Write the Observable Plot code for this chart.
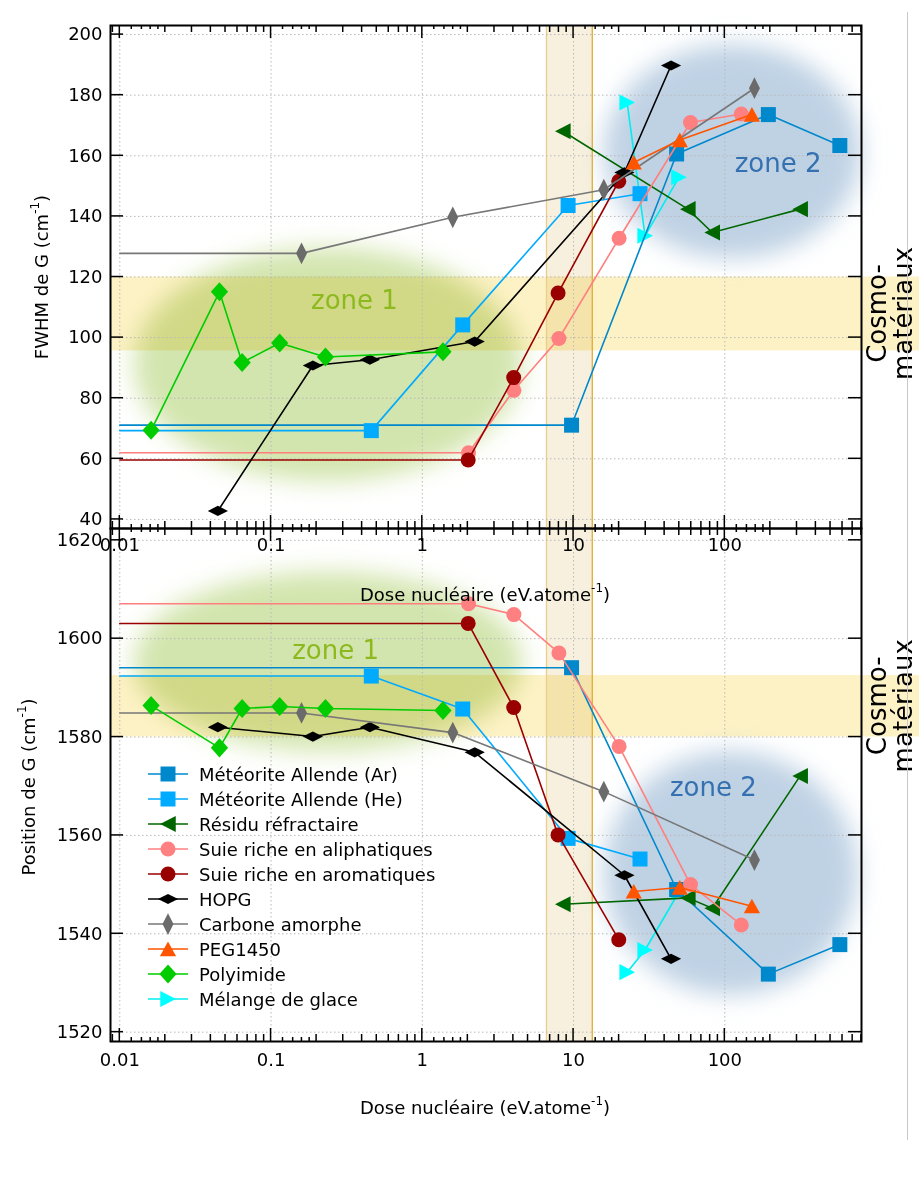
<!DOCTYPE html>
<html><head><meta charset="utf-8">
<script src="https://cdn.jsdelivr.net/npm/d3@7"></script>
<script src="https://cdn.jsdelivr.net/npm/@observablehq/plot@0.6"></script>
<style>
body{margin:0;background:#fff;}
#wrap{position:relative;width:919px;height:1181px;overflow:hidden;}
#wrap svg{position:absolute;left:0;top:0;}
</style></head><body><div id="wrap"></div><script>
const FONT = "'DejaVu Sans', sans-serif";

// ---- axes ----
const xDomain = [0.00868, 801];
const doseTicks = [0.01, 0.1, 1, 10, 100];
const fwhmDomain = [37.0, 203.0];
const fwhmTicks = [40, 60, 80, 100, 120, 140, 160, 180, 200];
const posDomain = [1518.1, 1622.4];
const posTicks = [1520, 1540, 1560, 1580, 1600, 1620];
const pristineDose = 0.01;

// ---- series (dose in eV/atom, FWHM and position of G in cm-1) ----
const names = ["Météorite Allende (Ar)", "Météorite Allende (He)", "Résidu réfractaire",
  "Suie riche en aliphatiques", "Suie riche en aromatiques", "HOPG", "Carbone amorphe",
  "PEG1450", "Polyimide", "Mélange de glace"];

const doseAr = [9.7, 48, 194, 576];
const fwhmAr = [71.1, 160.6, 173.6, 163.4];
const posAr = [1594.1, 1549.0, 1531.8, 1537.8];

const doseHe = [0.46, 1.85, 9.2, 27.5];
const fwhmHe = [69.3, 104.2, 143.6, 147.5];
const posHe = [1592.4, 1585.7, 1559.4, 1555.2];

const doseResidu = [8.5, 57, 82.6, 315];
const fwhmResidu = [168.1, 142.4, 134.7, 142.4];
const posResidu = [1546.0, 1547.3, 1545.2, 1572.1];

const doseAliph = [2.02, 4.03, 8.0, 20, 59.3, 128.5];
const fwhmAliph = [62.0, 82.6, 99.7, 132.8, 171.0, 173.8];
const posAliph = [1607.1, 1604.9, 1597.1, 1578.1, 1550.0, 1541.8];

const doseArom = [2.01, 4.02, 7.9, 19.9];
const fwhmArom = [59.6, 86.8, 114.7, 151.6];
const posArom = [1603.1, 1586.0, 1560.1, 1538.8];

const doseHOPG = [0.0445, 0.189, 0.45, 2.22, 21.7, 44.1];
const fwhmHOPG = [42.8, 90.8, 92.7, 98.7, 154.5, 189.8];
const posHOPG = [1582.0, 1580.1, 1582.0, 1576.9, 1551.9, 1534.9];

const doseCarbone = [0.159, 1.59, 15.85, 157];
const fwhmCarbone = [127.8, 139.7, 148.8, 182.3];
const posCarbone = [1584.9, 1580.9, 1568.9, 1555.0];

const dosePEG = [25.0, 50.4, 151];
const fwhmPEG = [157.8, 165.2, 173.6];
const posPEG = [1548.6, 1549.4, 1545.6];

const dosePoly = [0.0161, 0.0456, 0.0644, 0.114, 0.229, 1.37];
const fwhmPoly = [69.4, 115.1, 91.8, 98.2, 93.6, 95.3];
const posPoly = [1586.4, 1577.8, 1585.8, 1586.2, 1585.8, 1585.4];

const doseGlace = [22.6, 29.7, 49.7];
const fwhmGlace = [177.6, 133.6, 152.9];
const posGlace = [1532.2, 1536.7, 1548.5];

// series whose pristine value is drawn as a line from the lowest dose
const withPristine = ["Météorite Allende (Ar)", "Météorite Allende (He)", "Suie riche en aliphatiques",
  "Suie riche en aromatiques", "Carbone amorphe"];

// ---- annotation regions ----
const cosmoFwhm = [95.6, 120];
const cosmoPos = [1580, 1592.5];
const irradBand = [6.67, 13.4];
const zoneLabels = ["zone 1", "zone 2"];
const zoneFwhm = [ {dose: [0.0125, 4.6], value: [52.5, 129.5]}, {dose: [16.0, 800], value: [126.0, 196.5]} ];
const zonePos = [ {dose: [0.0125, 4.6], value: [1577.0, 1613.5]}, {dose: [16.0, 760], value: [1527.5, 1577.0]} ];
const zoneLabelFwhm = [ {dose: 0.356, value: 112.1}, {dose: 225, value: 157.4} ];
const zoneLabelPos = [ {dose: 0.267, value: 1597.6}, {dose: 84, value: 1569.8} ];

// ---- styles ----
const colors = ["#0088cc", "#00aaff", "#006600", "#ff8080", "#990000", "#000000", "#6b6b6b", "#ff5500", "#00cc00", "#00ffff"];
const lineColors = ["#0088cc", "#00aaff", "#006600", "#ff7f7f", "#990000", "#000000", "#777777", "#ff5500", "#00cc00", "#00eeee"];
const zoneColors = ["#d3e5ae", "#bfd2e4"];
const zoneTextColors = ["#8cb91e", "#3570b0"];
function poly(pts) {
  return {draw(ctx, size) {
    const r = Math.sqrt(size / Math.PI);
    pts.forEach(([a, b], i) => i ? ctx.lineTo(a * r, b * r) : ctx.moveTo(a * r, b * r));
    ctx.closePath();
  }};
}
const symSquare = poly([[-1, -1], [1, -1], [1, 1], [-1, 1]]);
const symLeft = poly([[-1.05, 0], [1.03, -1.07], [1.03, 1.07]]);
const symRight = poly([[1.05, 0], [-1.03, -1.07], [-1.03, 1.07]]);
const symUp = poly([[0, -1.0], [1.08, 0.95], [-1.08, 0.95]]);
const symDiamond = poly([[0, -1.27], [1.15, 0], [0, 1.27], [-1.15, 0]]);
const symFlat = poly([[0, -0.68], [1.35, 0], [0, 0.68], [-1.35, 0]]);
const symTall = poly([[0, -1.45], [0.73, 0], [0, 1.45], [-0.73, 0]]);
const symbols = [symSquare, symSquare, symLeft, d3.symbolCircle, d3.symbolCircle, symFlat, symTall, symUp, symDiamond, symRight];
const R = 7.5;

const series = [
  [doseAr, fwhmAr, posAr], [doseHe, fwhmHe, posHe], [doseResidu, fwhmResidu, posResidu],
  [doseAliph, fwhmAliph, posAliph], [doseArom, fwhmArom, posArom], [doseHOPG, fwhmHOPG, posHOPG],
  [doseCarbone, fwhmCarbone, posCarbone], [dosePEG, fwhmPEG, posPEG], [dosePoly, fwhmPoly, posPoly],
  [doseGlace, fwhmGlace, posGlace]
].map(([dose, fwhm, pos], i) => ({name: names[i], dose, fwhm, pos, color: colors[i], line: lineColors[i], symbol: symbols[i],
  pristine: withPristine.includes(names[i])}));
const drawOrder = [9, 0, 1, 2, 3, 4, 5, 6, 7, 8];

function zonesRender(zones, id) {
  return (index, {x, y}, values, dim) => {
    const g = d3.create("svg:g");
    const defs = g.append("defs");
    defs.append("filter").attr("id", id + "blur").attr("x", "-50%").attr("y", "-50%").attr("width", "200%").attr("height", "200%")
      .append("feGaussianBlur").attr("stdDeviation", 12);
    defs.append("clipPath").attr("id", id + "clip").append("rect")
      .attr("x", dim.marginLeft).attr("y", dim.marginTop)
      .attr("width", dim.width - dim.marginLeft - dim.marginRight)
      .attr("height", dim.height - dim.marginTop - dim.marginBottom);
    zones.forEach((z, i) => {
      const x1 = x(z.dose[0]), x2 = x(z.dose[1]), y1 = y(z.value[0]), y2 = y(z.value[1]);
      g.append("g").attr("clip-path", i === 0 ? `url(#${id}clip)` : null)
        .append("ellipse").attr("cx", (x1 + x2) / 2).attr("cy", (y1 + y2) / 2)
        .attr("rx", Math.abs(x2 - x1) / 2).attr("ry", Math.abs(y2 - y1) / 2)
        .attr("fill", zoneColors[i]).attr("filter", `url(#${id}blur)`);
    });
    return g.node();
  };
}

function bandsRender(cosmo) {
  return (index, {x, y}, values, dim) => {
    const g = d3.create("svg:g");
    const T = dim.marginTop, B = dim.height - dim.marginBottom, L = dim.marginLeft;
    g.append("rect").attr("x", L).attr("width", dim.width - L).attr("y", y(cosmo[1]))
      .attr("height", y(cosmo[0]) - y(cosmo[1])).attr("fill", "#fdf2c6").style("mix-blend-mode", "multiply");
    const bx1 = x(irradBand[0]), bx2 = x(irradBand[1]);
    g.append("rect").attr("x", bx1).attr("width", bx2 - bx1).attr("y", T).attr("height", B - T)
      .attr("fill", "#f7f0de").style("mix-blend-mode", "multiply");
    for (const [bx, c] of [[bx1, "#eccd8a"], [bx2, "#e3ac33"]])
      g.append("line").attr("x1", bx).attr("x2", bx).attr("y1", T).attr("y2", B).attr("stroke", c).attr("stroke-width", 1.3);
    return g.node();
  };
}

function cosmoText(cosmo) {
  return (index, {x, y}, values, dim) => {
    const cy = (y(cosmo[0]) + y(cosmo[1])) / 2;
    const g = d3.create("svg:g").attr("font-family", FONT).attr("font-size", 26).attr("text-anchor", "middle").attr("fill", "#000");
    g.append("text").attr("transform", `translate(${dim.width - 33},${cy}) rotate(-90)`).text("Cosmo-");
    g.append("text").attr("transform", `translate(${dim.width - 7},${cy}) rotate(-90)`).text("matériaux");
    return g.node();
  };
}

function ticksRender(yTicks) {
  return (index, {x, y}, values, dim) => {
    const L = dim.marginLeft, Rr = dim.width - dim.marginRight, T = dim.marginTop, B = dim.height - dim.marginBottom;
    const g = d3.create("svg:g").attr("stroke", "#000").attr("stroke-width", 1.5);
    for (let e = -3; e <= 3; e++) {
      for (const m of [1, 1.2, 1.4, 1.6, 1.8, 2, 3, 4, 5, 6, 7, 8, 9]) {
        const v = m * Math.pow(10, e);
        if (v < xDomain[0] || v > xDomain[1]) continue;
        const len = m === 1 ? 13 : Number.isInteger(m) ? 7 : 4;
        const px = x(v);
        g.append("line").attr("x1", px).attr("x2", px).attr("y1", T).attr("y2", T + len);
        g.append("line").attr("x1", px).attr("x2", px).attr("y1", B).attr("y2", B - len);
      }
    }
    for (const t of yTicks) {
      const py = y(t);
      g.append("line").attr("x1", L).attr("x2", L + 13).attr("y1", py).attr("y2", py);
      g.append("line").attr("x1", Rr - 13).attr("x2", Rr).attr("y1", py).attr("y2", py);
    }
    return g.node();
  };
}

function panel({key, yDomain, yTicks, height, marginTop, marginBottom, cosmo, zones, labels, xPad, id}) {
  const marks = [
    zonesRender(zones, id),
    bandsRender(cosmo),
    Plot.ruleX(doseTicks, {stroke: "#b8b8b8", strokeDasharray: "1.5,2.5", strokeWidth: 1}),
    Plot.ruleY(yTicks, {stroke: "#b8b8b8", strokeDasharray: "1.5,2.5", strokeWidth: 1}),
    Plot.text(labels.map((d, i) => ({...d, label: zoneLabels[i], c: zoneTextColors[i]})),
      {x: "dose", y: "value", text: "label", fill: d => d.c, fontSize: 26, fontFamily: FONT})
  ];
  for (const i of drawOrder) {
    const s = series[i];
    const pts = s.dose.map((d, j) => ({dose: d, value: s[key][j]}));
    const linePts = s.pristine ? [{dose: pristineDose, value: pts[0].value}, ...pts] : pts;
    marks.push(Plot.line(linePts, {x: "dose", y: "value", stroke: s.line, strokeWidth: 1.6}));
    marks.push(Plot.dot(pts, {x: "dose", y: "value", fill: s.color, symbol: s.symbol, r: R, stroke: "none"}));
  }
  marks.push(Plot.frame({stroke: "#000", strokeWidth: 2}));
  marks.push(ticksRender(yTicks));
  marks.push(cosmoText(cosmo));
  return Plot.plot({
    width: 919, height, marginTop, marginBottom, marginLeft: 110, marginRight: 58,
    x: {type: "log", domain: xDomain, ticks: doseTicks, tickFormat: d => String(d), tickSize: 0, tickPadding: xPad, label: null},
    y: {domain: yDomain, ticks: yTicks, tickFormat: d => String(d), tickSize: 0, tickPadding: 8, label: null},
    style: {background: "transparent", overflow: "visible", fontFamily: FONT, fontSize: "18px", color: "#000"},
    marks
  });
}

const wrap = document.getElementById("wrap");
const bottomPanel = panel({key: "pos", yDomain: posDomain, yTicks: posTicks, height: 1181, marginTop: 528, marginBottom: 140,
  cosmo: cosmoPos, zones: zonePos, labels: zoneLabelPos, xPad: 12, id: "pb"});
const topPanel = panel({key: "fwhm", yDomain: fwhmDomain, yTicks: fwhmTicks, height: 620, marginTop: 25, marginBottom: 92,
  cosmo: cosmoFwhm, zones: zoneFwhm, labels: zoneLabelFwhm, xPad: 10, id: "pt"});
wrap.appendChild(bottomPanel);
wrap.appendChild(topPanel);

// ---- overlay: axis titles, legend, page rule ----
const ov = d3.select(wrap).append("svg").attr("width", 919).attr("height", 1181)
  .attr("font-family", FONT).attr("font-size", 18).style("pointer-events", "none");
ov.append("line").attr("x1", 907.5).attr("x2", 907.5).attr("y1", 12).attr("y2", 1140).attr("stroke", "#c8c8c8").attr("stroke-width", 1);

function supText(sel, pre, sup, post) {
  sel.append("tspan").text(pre);
  sel.append("tspan").attr("font-size", 12).attr("dy", -9).text(sup);
  sel.append("tspan").attr("dy", 9).text(post);
}
for (const yb of [600.5, 1113.5]) {
  supText(ov.append("text").attr("x", 485).attr("y", yb).attr("text-anchor", "middle"), "Dose nucléaire (eV.atome", "-1", ")");
}
supText(ov.append("text").attr("transform", "translate(48,277) rotate(-90)").attr("text-anchor", "middle"), "FWHM de G (cm", "-1", ")");
supText(ov.append("text").attr("transform", "translate(35,787) rotate(-90)").attr("text-anchor", "middle"), "Position de G (cm", "-1", ")");

const leg = ov.append("g");
series.forEach((s, i) => {
  const cy = 774 + i * 25;
  leg.append("line").attr("x1", 148).attr("x2", 188).attr("y1", cy).attr("y2", cy).attr("stroke", s.line).attr("stroke-width", 1.6);
  leg.append("path").attr("transform", `translate(168,${cy})`).attr("d", d3.symbol(s.symbol, Math.PI * R * R)()).attr("fill", s.color);
  leg.append("text").attr("x", 199).attr("y", cy + 6.5).text(s.name);
});
</script></body></html>
